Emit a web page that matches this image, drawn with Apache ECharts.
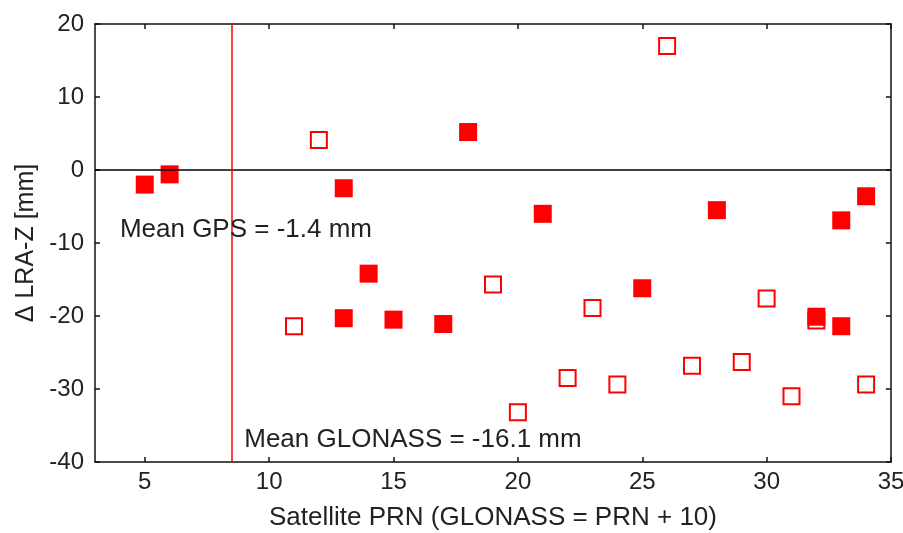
<!DOCTYPE html>
<html>
<head>
<meta charset="utf-8">
<script src="https://cdn.jsdelivr.net/npm/echarts@6/dist/echarts.min.js"></script>
<style>
  html, body { margin: 0; padding: 0; background: #fff; }
  #chart { width: 903px; height: 533px; }
</style>
</head>
<body>
<div id="chart"></div>
<script>
// filled squares
var filledPrn = [5, 6, 13, 13, 14, 15, 17, 18, 21, 25, 28, 32, 33, 33, 34];
var filledDz = [-2.0, -0.6, -2.5, -20.3, -14.2, -20.5, -21.1, 5.2, -6.0, -16.2, -5.5, -20.1, -6.9, -21.4, -3.6];

// open squares
var openPrn = [11, 12, 19, 20, 22, 23, 24, 26, 27, 29, 30, 31, 32, 34];
var openDz = [-21.4, 4.1, -15.7, -33.2, -28.5, -18.9, -29.4, 17.0, -26.8, -26.3, -17.6, -31.0, -20.6, -29.4];

var xTicks = [5, 10, 15, 20, 25, 30, 35];

var splitPrn = 8.5;
var gpsText = 'Mean GPS = -1.4 mm';
var glonassText = 'Mean GLONASS = -16.1 mm';

var font = 'Liberation Sans, Arial, sans-serif';
var fs = 26;

function pairs(xs, ys) {
  var out = [];
  for (var i = 0; i < xs.length; i++) out.push([xs[i], ys[i]]);
  return out;
}

var chart = echarts.init(document.getElementById('chart'));

var axisLine = { show: true, onZero: false, lineStyle: { color: '#111', width: 1.5 } };
var tick = { show: true, inside: true, length: 5, lineStyle: { color: '#111', width: 1.5 } };

chart.setOption({
  animation: false,
  grid: { left: 95, right: 12, top: 24, bottom: 71, outerBoundsMode: 'none', containLabel: false },
  xAxis: [{
    type: 'value', min: 3, max: 35,
    name: 'Satellite PRN (GLONASS = PRN + 10)',
    nameLocation: 'middle', nameGap: 43,
    nameTextStyle: { fontFamily: font, fontSize: fs, color: '#222' },
    axisLine: axisLine,
    axisTick: Object.assign({ customValues: xTicks }, tick),
    axisLabel: {
      fontFamily: font, fontSize: 24, color: '#222', margin: 8,
      customValues: xTicks
    },
    splitLine: { show: false }
  }, {
    type: 'value', position: 'top', min: 3, max: 35,
    axisLine: axisLine,
    axisTick: Object.assign({ customValues: xTicks }, tick),
    axisLabel: { show: false }, splitLine: { show: false }
  }],
  yAxis: [{
    type: 'value', min: -40, max: 20, interval: 10,
    name: '\u0394 LRA-Z [mm]',
    nameLocation: 'middle', nameGap: 55,
    nameTextStyle: { fontFamily: font, fontSize: fs - 1, color: '#222' },
    axisLine: axisLine, axisTick: tick,
    axisLabel: { fontFamily: font, fontSize: 24, color: '#222', margin: 11 },
    splitLine: { show: false }
  }, {
    type: 'value', position: 'right', min: -40, max: 20, interval: 10,
    axisLine: axisLine, axisTick: tick,
    axisLabel: { show: false }, splitLine: { show: false }
  }],
  series: [{
    type: 'scatter',
    name: 'open',
    symbol: 'rect',
    symbolSize: 16,
    itemStyle: { color: '#fff', borderColor: '#ff0000', borderWidth: 2, opacity: 1 },
    data: pairs(openPrn, openDz),
    z: 3,
    markLine: {
      silent: true, symbol: 'none', label: { show: false },
      data: [
        [{ coord: [3, 0], lineStyle: { color: '#000', width: 1.5, type: 'solid' } }, { coord: [35, 0] }],
        [{ coord: [splitPrn, -40], lineStyle: { color: '#ff0000', width: 1.5, type: 'solid' } }, { coord: [splitPrn, 20] }]
      ]
    },
    markPoint: {
      silent: true, symbol: 'circle', symbolSize: 0,
      label: {
        show: true, position: 'right', distance: 0,
        fontFamily: font, fontSize: fs, color: '#222'
      },
      data: [
        { coord: [4.0, -8.2], value: gpsText, label: { formatter: gpsText } },
        { coord: [9.0, -37.0], value: glonassText, label: { formatter: glonassText } }
      ]
    }
  }, {
    type: 'scatter',
    name: 'filled',
    symbol: 'rect',
    symbolSize: 18,
    itemStyle: { color: '#ff0000', opacity: 1 },
    data: pairs(filledPrn, filledDz),
    z: 4
  }]
});
</script>
</body>
</html>
